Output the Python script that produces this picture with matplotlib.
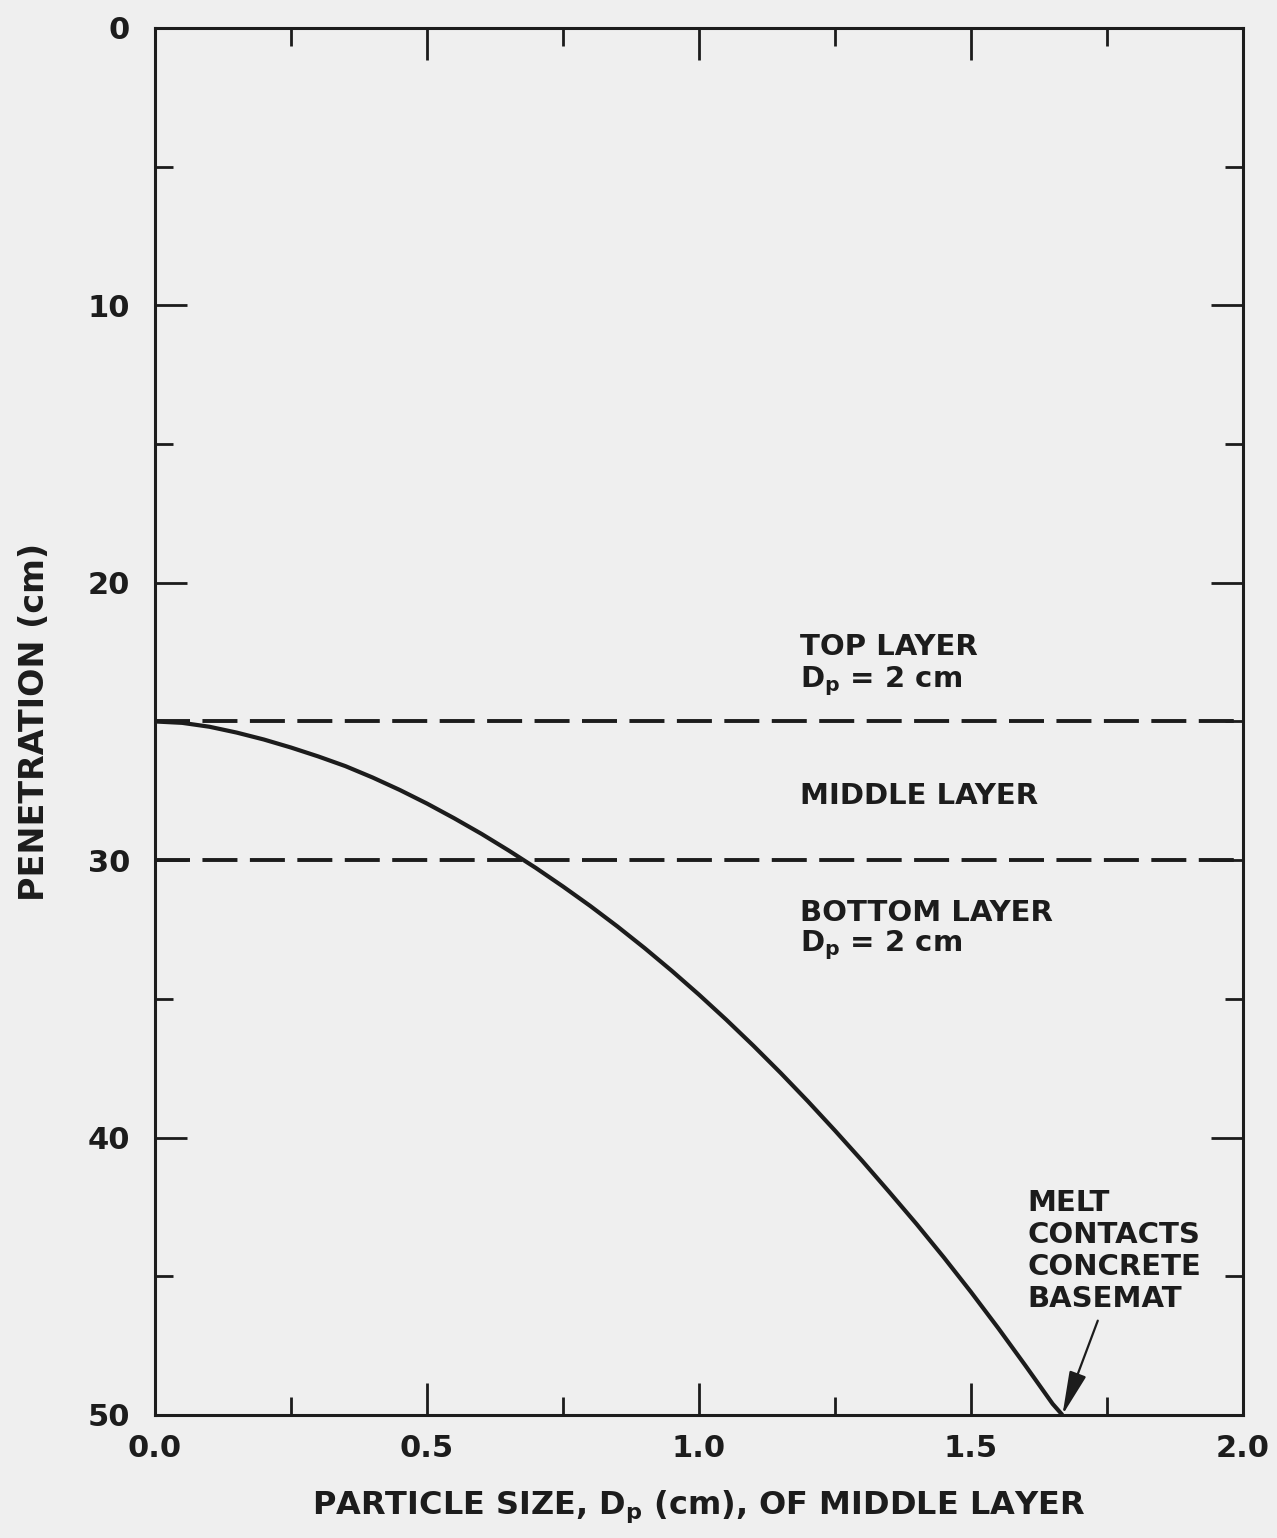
import matplotlib
matplotlib.use("Agg")
import matplotlib.pyplot as plt

# Data
particle_size = [0.00, 0.05, 0.10, 0.15, 0.20, 0.25, 0.30, 0.35, 0.40, 0.45,
                 0.50, 0.55, 0.60, 0.65, 0.70, 0.75, 0.80, 0.85, 0.90, 0.95,
                 1.00, 1.05, 1.10, 1.15, 1.20, 1.25, 1.30, 1.35, 1.40, 1.45,
                 1.50, 1.55, 1.60, 1.65, 1.668]
penetration = [25.00, 25.05, 25.19, 25.40, 25.65, 25.94, 26.26, 26.61, 27.02, 27.47,
               27.96, 28.49, 29.05, 29.65, 30.28, 30.95, 31.65, 32.39, 33.17, 33.99,
               34.85, 35.75, 36.69, 37.67, 38.69, 39.75, 40.84, 41.97, 43.12, 44.32,
               45.57, 46.87, 48.22, 49.60, 50.00]
layer_bounds = [25.0, 30.0]
x_ticks = [0.0, 0.5, 1.0, 1.5, 2.0]
x_tick_labels = ["0.0", "0.5", "1.0", "1.5", "2.0"]
y_ticks = [0, 10, 20, 30, 40, 50]
y_tick_labels = ["0", "10", "20", "30", "40", "50"]

plt.rcParams['font.family'] = ['DejaVu Sans']
plt.rcParams['font.weight'] = 'bold'
plt.rcParams['mathtext.fontset'] = 'custom'
plt.rcParams['mathtext.rm'] = 'DejaVu Sans:bold'
plt.rcParams['mathtext.default'] = 'rm'

bg = '#efefef'
ink = '#1c1c1c'

fig = plt.figure(figsize=(12.77, 15.38), dpi=100, facecolor=bg)
ax = fig.add_axes([0.1214, 0.080, 0.8520, 0.9018])
ax.set_facecolor(bg)

ax.plot(particle_size, penetration, color=ink, lw=3.0, solid_capstyle='butt',
        solid_joinstyle='round', zorder=3)
for yb in layer_bounds:
    ax.axhline(yb, color=ink, lw=2.8, ls=(0, (9.0, 3.2)), zorder=2)

ax.set_xlim(0, 2.0)
ax.set_ylim(50, 0)
ax.set_xticks(x_ticks)
ax.set_xticklabels(x_tick_labels)
ax.set_yticks(y_ticks)
ax.set_yticklabels(y_tick_labels)
ax.set_xticks([0.25, 0.75, 1.25, 1.75], minor=True)
ax.set_yticks([5, 15, 25, 35, 45], minor=True)

for s in ax.spines.values():
    s.set_linewidth(2.2)
    s.set_color(ink)

ax.tick_params(which='both', direction='in', top=True, right=True, color=ink,
               width=2.0, labelsize=22, labelcolor=ink)
ax.tick_params(which='major', length=23)
ax.tick_params(which='minor', length=13)
ax.tick_params(axis='x', pad=14)
ax.tick_params(axis='y', pad=18)

ax.set_xlabel("PARTICLE SIZE, D$_{p}$ (cm), OF MIDDLE LAYER", fontsize=23,
              fontweight='bold', color=ink, labelpad=18)
ax.set_ylabel("PENETRATION (cm)", fontsize=24, fontweight='bold', color=ink, labelpad=26)

tk = dict(fontsize=21, fontweight='bold', color=ink, ha='left', va='center')
ax.text(1.186, 22.3, "TOP LAYER", **tk)
ax.text(1.186, 23.55, "D$_{p}$ = 2 cm", **tk)
ax.text(1.186, 27.7, "MIDDLE LAYER", **tk)
ax.text(1.186, 31.9, "BOTTOM LAYER", **tk)
ax.text(1.186, 33.05, "D$_{p}$ = 2 cm", **tk)
ax.text(1.603, 44.1, "MELT\nCONTACTS\nCONCRETE\nBASEMAT", fontsize=21, fontweight='bold',
        color=ink, ha='left', va='center', linespacing=1.18)

ax.annotate("", xy=(particle_size[-1], penetration[-1]), xytext=(1.733, 46.6),
            arrowprops=dict(arrowstyle='-|>,head_length=0.9,head_width=0.18', color=ink,
                            lw=1.6, mutation_scale=30, shrinkA=0, shrinkB=0))

fig.savefig("out.png", dpi=100, facecolor=bg)
